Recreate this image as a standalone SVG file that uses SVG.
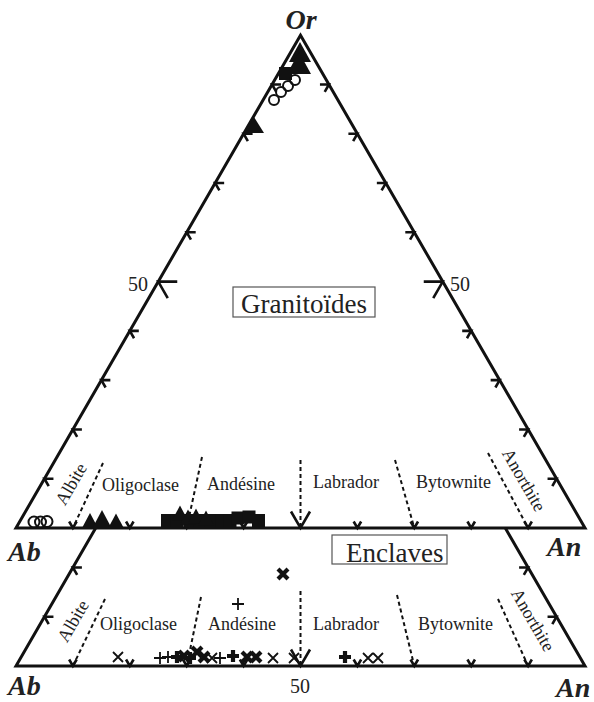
<svg xmlns="http://www.w3.org/2000/svg" xmlns:xlink="http://www.w3.org/1999/xlink" width="594" height="702" viewBox="0 0 594 702">
<style>
.frame{fill:none;stroke:#111;stroke-width:3;stroke-linejoin:miter}
.tick{fill:none;stroke:#111;stroke-width:2.6;stroke-linejoin:miter}
.dash{fill:none;stroke:#111;stroke-width:2;stroke-dasharray:4 3}
.zone{font-family:"Liberation Serif","Times New Roman",serif;font-size:18px;fill:#222}
.big{font-family:"Liberation Serif","Times New Roman",serif;font-size:27px;fill:#222}
.num{font-family:"Liberation Serif","Times New Roman",serif;font-size:20px;fill:#222}
.apex{font-family:"Liberation Serif","Times New Roman",serif;font-size:28px;font-weight:bold;font-style:italic;fill:#222}
.box{fill:none;stroke:#555;stroke-width:1.2}
.fill{fill:#111;stroke:none}
.oc{fill:none;stroke:#111;stroke-width:2}
.xt{fill:none;stroke:#111;stroke-width:1.8}
.xb{fill:none;stroke:#111;stroke-width:4.2}
</style>
<defs>
<path id="tri" d="M0,-7.5 L8,7.5 L-8,7.5 Z"/>
<rect id="sq" x="-6.5" y="-6.5" width="13" height="13"/>
<path id="xx" d="M-5,-5 L5,5 M-5,5 L5,-5"/>
<path id="pl" d="M-6,0 H6 M0,-6 V6"/>
</defs>

<g id="frames">
<path class="frame" d="M16,528 L585,528 L300.5,35.2 Z"/>
<path class="frame" d="M95.7,528 L16,666 L585,666 L505.3,528"/>
</g>

<g id="ticks">
<path class="tick" d="M53.45,478.72 L44.45,478.72 L48.7,486.08 M81.9,429.44 L72.9,429.44 L77.15,436.8 M110.35,380.16 L101.35,380.16 L105.6,387.52 M138.8,330.88 L129.8,330.88 L134.05,338.24 M195.7,232.32 L186.7,232.32 L190.95,239.68 M224.15,183.04 L215.15,183.04 L219.4,190.4 M252.6,133.76 L243.6,133.76 L247.85,141.12 M281.05,84.48 L272.05,84.48 L276.3,91.84"/>
<path class="tick" d="M177.25,281.6 L158.25,281.6 L167.75,298.1"/>
<path class="tick" d="M547.55,478.72 L556.55,478.72 L552.3,486.08 M519.1,429.44 L528.1,429.44 L523.85,436.8 M490.65,380.16 L499.65,380.16 L495.4,387.52 M462.2,330.88 L471.2,330.88 L466.95,338.24 M405.3,232.32 L414.3,232.32 L410.05,239.68 M376.85,183.04 L385.85,183.04 L381.6,190.4 M348.4,133.76 L357.4,133.76 L353.15,141.12 M319.95,84.48 L328.95,84.48 L324.7,91.84"/>
<path class="tick" d="M423.75,281.6 L442.75,281.6 L433.25,298.1"/>
<path class="tick" d="M69.15,521.5 L72.9,528 L76.65,521.5 M126.05,521.5 L129.8,528 L133.55,521.5 M182.95,521.5 L186.7,528 L190.45,521.5 M239.85,521.5 L243.6,528 L247.35,521.5 M353.65,521.5 L357.4,528 L361.15,521.5 M410.55,521.5 L414.3,528 L418.05,521.5 M467.45,521.5 L471.2,528 L474.95,521.5 M524.35,521.5 L528.1,528 L531.85,521.5"/>
<path class="tick" d="M291,511.5 L300.5,528 L310,511.5"/>
<path class="tick" d="M53.45,616.72 L44.45,616.72 L48.7,624.08 M81.9,567.44 L72.9,567.44 L77.15,574.8"/>
<path class="tick" d="M547.55,616.72 L556.55,616.72 L552.3,624.08 M519.1,567.44 L528.1,567.44 L523.85,574.8"/>
<path class="tick" d="M69.15,659.5 L72.9,666 L76.65,659.5 M126.05,659.5 L129.8,666 L133.55,659.5 M182.95,659.5 L186.7,666 L190.45,659.5 M239.85,659.5 L243.6,666 L247.35,659.5 M353.65,659.5 L357.4,666 L361.15,659.5 M410.55,659.5 L414.3,666 L418.05,659.5 M467.45,659.5 L471.2,666 L474.95,659.5 M524.35,659.5 L528.1,666 L531.85,659.5"/>
<path class="tick" d="M291,649.5 L300.5,666 L310,649.5"/>
</g>

<g id="boundaries">
<path class="dash" d="M103,463 L72.9,528 M202,457 L186.7,528 M300.5,460 L300.5,528 M395,460 L414.3,528 M488,453 L528.1,528"/>
<path class="dash" d="M105,599 L72.9,666 M201,597 L186.7,666 M300.5,591 L300.5,666 M397,595 L414.3,666 M498,599 L528.1,666"/>
</g>

<g id="labels">
<text class="apex" x="301" y="29" text-anchor="middle">Or</text>
<text class="apex" x="8" y="561" font-size="27">Ab</text>
<text class="apex" x="547" y="556" font-size="27">An</text>
<text class="apex" x="8" y="695" font-size="27">Ab</text>
<text class="apex" x="556" y="697" font-size="27">An</text>
<text class="num" x="128" y="291">50</text>
<text class="num" x="450" y="291">50</text>
<text class="num" x="290" y="693">50</text>
</g>

<g id="granitoides">
<rect class="box" x="233" y="287" width="142" height="30"/>
<text class="big" x="304" y="313" text-anchor="middle">Granitoïdes</text>
</g>
<g id="enclaves">
<rect class="box" x="332" y="535" width="115" height="29"/>
<text class="big" x="346" y="562">Enclaves</text>
</g>

<g id="zones-upper">
<text class="zone" transform="translate(71,484) rotate(-60)" text-anchor="middle" y="6">Albite</text>
<text class="zone" x="102" y="491">Oligoclase</text>
<text class="zone" x="207" y="490">Andésine</text>
<text class="zone" x="313" y="488" font-size="16.5">Labrador</text>
<text class="zone" x="416" y="488">Bytownite</text>
<text class="zone" transform="translate(524,480) rotate(60)" text-anchor="middle" y="6">Anorthite</text>
</g>
<g id="zones-lower">
<text class="zone" transform="translate(73,621) rotate(-60)" text-anchor="middle" y="6">Albite</text>
<text class="zone" x="100" y="630">Oligoclase</text>
<text class="zone" x="208" y="630">Andésine</text>
<text class="zone" x="313" y="630">Labrador</text>
<text class="zone" x="418" y="630">Bytownite</text>
<text class="zone" transform="translate(533,620) rotate(60)" text-anchor="middle" y="6">Anorthite</text>
</g>

<g id="data-granitoides">
<polygon class="fill" points="300,42 289,62 311,62"/>
<polygon class="fill" points="299,52 287,74 311,74"/>
<rect class="fill" x="279" y="67" width="13" height="13"/>
<circle class="oc" cx="295" cy="80" r="5"/>
<circle class="oc" cx="288" cy="86" r="5"/>
<circle class="oc" cx="281" cy="92" r="5"/>
<circle class="oc" cx="274" cy="100" r="5"/>
<polygon class="fill" points="254,117 245,133 264,133"/>
<circle class="oc" cx="34" cy="522" r="5.5"/>
<circle class="oc" cx="40.5" cy="522" r="5.5"/>
<circle class="oc" cx="47" cy="521.5" r="5.5"/>
<use href="#tri" class="fill" x="90" y="520.5"/>
<polygon class="fill" points="102,510 93,527 111,527"/>
<use href="#tri" class="fill" x="116" y="521"/>
<use href="#sq" class="fill" x="167.5" y="520.5"/>
<use href="#sq" class="fill" x="177" y="520.5"/>
<use href="#sq" class="fill" x="190" y="520.5"/>
<use href="#sq" class="fill" x="200" y="520.5"/>
<use href="#sq" class="fill" x="211" y="520.5"/>
<use href="#sq" class="fill" x="222" y="520.5"/>
<use href="#sq" class="fill" x="230" y="520.5"/>
<use href="#sq" class="fill" x="238" y="518"/>
<use href="#sq" class="fill" x="249" y="517"/>
<use href="#sq" class="fill" x="258.5" y="520.5"/>
<use href="#tri" class="fill" x="180" y="513"/>
<use href="#tri" class="fill" x="188" y="517"/>
<use href="#tri" class="fill" x="196" y="516"/>
<use href="#tri" class="fill" x="206" y="518"/>
</g>

<g id="data-enclaves">
<use href="#xx" class="xt" x="118" y="657"/>
<use href="#pl" class="xt" x="160" y="658"/>
<use href="#pl" class="xt" x="168" y="657"/>
<use href="#pl" class="xb" x="177" y="657"/>
<use href="#xx" class="xb" x="184" y="656"/>
<use href="#pl" class="xb" x="190" y="658"/>
<use href="#xx" class="xb" x="197" y="652"/>
<use href="#xx" class="xb" x="204" y="657"/>
<use href="#xx" class="xt" x="212" y="658"/>
<use href="#pl" class="xt" x="220" y="658"/>
<use href="#pl" class="xb" x="233" y="656"/>
<use href="#xx" class="xb" x="247" y="657"/>
<use href="#xx" class="xb" x="256" y="657"/>
<use href="#xx" class="xt" x="273" y="658"/>
<use href="#xx" class="xt" x="294" y="658"/>
<use href="#pl" class="xb" x="345" y="657"/>
<use href="#xx" class="xt" x="368" y="658"/>
<use href="#xx" class="xt" x="378" y="658"/>
<use href="#xx" class="xb" x="283" y="574"/>
<use href="#pl" class="xt" x="238" y="604"/>
</g>
</svg>
